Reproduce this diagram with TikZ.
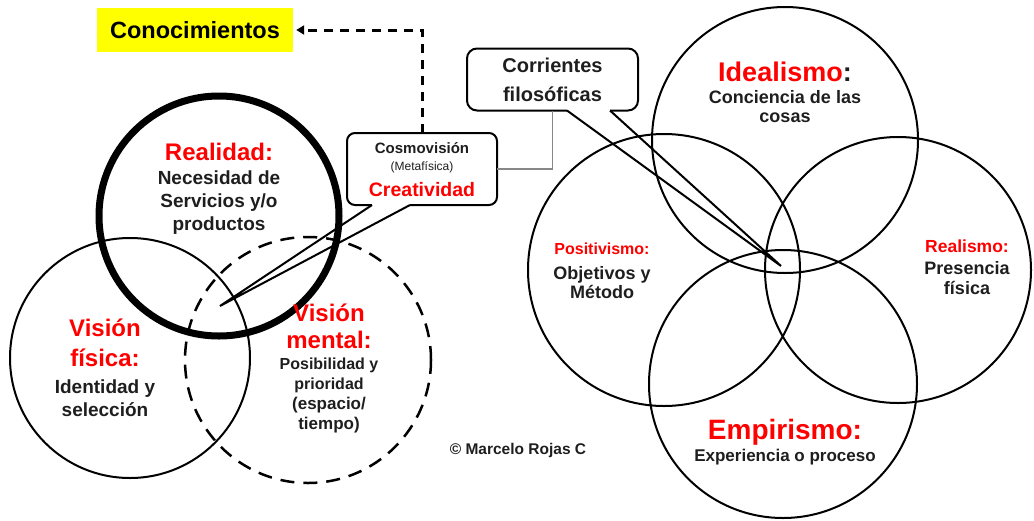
\documentclass[tikz,border=0pt]{standalone}
\usepackage{fontspec}
\setmainfont{Liberation Sans}
\definecolor{titlered}{RGB}{255, 0, 0}
\definecolor{notefill}{RGB}{255, 255, 0}
\definecolor{linkgray}{RGB}{135, 135, 135}
\definecolor{textdark}{RGB}{30, 30, 30}
\usetikzlibrary{arrows.meta, calc}
\tikzset{
    ring/.style={draw, circle, line width=2pt, inner sep=0pt},
    heading/.style 2 args={text=titlered, align=center, inner sep=0pt,
        font=\bfseries\fontsize{#1}{#2}\selectfont},
    body/.style 2 args={text=textdark, align=center, inner sep=0pt,
        font=\bfseries\fontsize{#1}{#2}\selectfont},
    balloon/.style={draw, rounded corners=#1, line width=2pt, outer sep=0pt,
        fill=white},
    tail/.style={line width=2pt},
}

\begin{document}
\begin{tikzpicture}[x=1pt, y=-1pt]
    \useasboundingbox (0, 0) rectangle (1034, 520);
    % left group
    \node[ring, minimum size=240pt] (fisica) at (130, 358) {};
    \node[ring, minimum size=246pt, line width=2.5pt,
        dash pattern=on 14pt off 9pt] (mental) at (308, 360) {};
    \node[ring, minimum size=240pt, line width=7pt] (realidad) at (219, 216) {};

    \node[heading={24}{24}] (realidadtit) at (219, 152) {Realidad:};
    \node[body={19}{23}] (realidadtxt) at (219, 203)
        {Necesidad de\\Servicios y/o\\productos};
    \node[heading={24}{30}] (fisicatit) at (105, 343) {Visión\\física:};
    \node[body={19}{23}] (fisicatxt) at (105, 398) {Identidad y\\selección};
    \node[heading={24}{27}] (mentaltit) at (329, 326) {Visión\\mental:};
    \node[body={16}{20}] (mentaltxt) at (329, 375) {Posibilidad y\\prioridad};
    \node[body={17}{20}] (mentalesp) at (329, 415) {(espacio/\\tiempo)};

    \node[fill=notefill, minimum width=196pt, minimum height=44pt, inner sep=0pt,
        font=\bfseries\fontsize{23.5}{23.5}\selectfont] (conoc) at (195, 30)
        {Conocimientos};

    % callouts
    \node[balloon=8pt, minimum width=150pt, minimum height=72pt] (cosmo)
        at (422, 169) {};
    \node[body={15}{15}] (cosmotit) at (422, 148) {Cosmovisión};
    \node[text=textdark, inner sep=0pt, font=\fontsize{12}{12}\selectfont]
        (metafisica) at (422, 167) {(Metafísica)};
    \node[heading={19.5}{20}] (creatividad) at (422, 190) {Creatividad};
    \coordinate (cosmotip) at (220, 306);
    \fill[white] ($(cosmo.south west)+(25, -1.5)$) rectangle
        ($(cosmo.south west)+(63, 1.5)$);
    \draw[tail] ($(cosmo.south west)+(25, 0)$) -- (cosmotip)
        -- ($(cosmo.south west)+(63, 0)$);

    \node[balloon=10pt, minimum width=171pt, minimum height=62pt, align=center,
        text=textdark, font=\bfseries\fontsize{20}{29}\selectfont] (corrientes)
        at (552.5, 79.5) {Corrientes\\filosóficas};
    \coordinate (corrtip) at (781, 266);
    \fill[white] ($(corrientes.south west)+(100, -1.5)$) rectangle
        ($(corrientes.south west)+(143, 1.5)$);
    \draw[tail] ($(corrientes.south west)+(100, 0)$) -- (corrtip)
        -- ($(corrientes.south west)+(143, 0)$);

    \draw[linkgray, line width=1.5pt] (cosmo.east) -| (corrientes.south);
    \draw[line width=3pt, dash pattern=on 9pt off 7pt, shorten >=3pt,
        -{Triangle[length=8pt, width=9pt]}] (cosmo.north) |- (conoc.east);

    % right group
    \node[ring, minimum size=266pt] (idealismo) at (785, 140) {};
    \node[ring, minimum size=272pt] (positivismo) at (664, 270) {};
    \node[ring, minimum size=266pt] (realismo) at (898, 270) {};
    \node[ring, minimum size=268pt] (empirismo) at (783, 384) {};

    \node[heading={27}{27}] (idealismotit) at (785, 72)
        {Idealismo\textcolor{textdark}{:}};
    \node[body={18}{19}] (idealismotxt) at (785, 107) {Conciencia de las\\cosas};
    \node[heading={16}{16}] (positivismotit) at (602, 249) {Positivismo:};
    \node[body={18}{19}] (positivismotxt) at (602, 283) {Objetivos y\\Método};
    \node[heading={17.5}{18}] (realismotit) at (967, 246) {Realismo:};
    \node[body={18}{20}] (realismotxt) at (967, 278) {Presencia\\física};
    \node[heading={28}{28}] (empirismotit) at (785, 432) {Empirismo:};
    \node[body={17}{17}] (empirismotxt) at (785, 457) {Experiencia o proceso};

    \node[body={15.5}{16}] (autor) at (518, 450) {© Marcelo Rojas C};
\end{tikzpicture}
\end{document}
